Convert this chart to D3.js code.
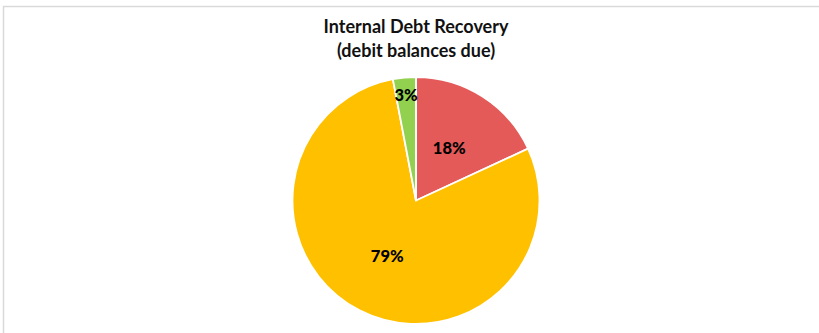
<!DOCTYPE html>
<html><head><meta charset="utf-8">
<script src="https://cdn.jsdelivr.net/npm/d3@7"></script>
<style>body{margin:0;background:#fff}svg{display:block}</style>
</head><body>
<svg id="c" width="819" height="333"></svg>
<script>
const titleLines = ["Internal Debt Recovery", "(debit balances due)"];
const categories = ["Category A", "Category B", "Category C"];
const values = [18.1, 78.9, 3.0];
const labels = ["18%", "79%", "3%"];
const colors = ["#E35A59", "#FFC000", "#92D050"];
const labelRadius = [0.5, 0.51, 0.86];

const svg = d3.select("#c");
svg.append("rect").attr("x", 3.5).attr("y", 6.5).attr("width", 830).attr("height", 340)
  .attr("fill", "none").attr("stroke", "#d9d9d9").attr("stroke-width", 1.5);

const cx = 416, cy = 200.5, r = 123.5;
const g = svg.append("g").attr("transform", `translate(${cx},${cy})`);
const pie = d3.pie().sort(null).value(d => d)(values);
const arc = d3.arc().innerRadius(0).outerRadius(r);
g.selectAll("path").data(pie).join("path")
  .attr("d", arc).attr("fill", (d, i) => colors[i])
  .attr("stroke", "#fff").attr("stroke-width", 1.8).attr("stroke-linejoin", "round");

g.selectAll("text").data(pie).join("text")
  .attr("transform", (d, i) => {
    const m = (d.startAngle + d.endAngle) / 2;
    const rr = r * labelRadius[i];
    return `translate(${Math.sin(m) * rr},${-Math.cos(m) * rr})`;
  })
  .attr("text-anchor", "middle").attr("dy", "0.36em")
  .style("font-family", "Lato, sans-serif").style("font-weight", "900").style("font-size", "16.5px")
  .attr("fill", "#000").text((d, i) => labels[i]);

svg.selectAll(".t").data(titleLines).join("text").attr("class", "t")
  .attr("x", 416).attr("y", (d, i) => 33 + i * 23.5)
  .attr("text-anchor", "middle")
  .style("font-family", "Lato, sans-serif").style("font-weight", "bold").style("font-size", "18px")
  .attr("fill", "#111").text(d => d);
</script>
</body></html>
